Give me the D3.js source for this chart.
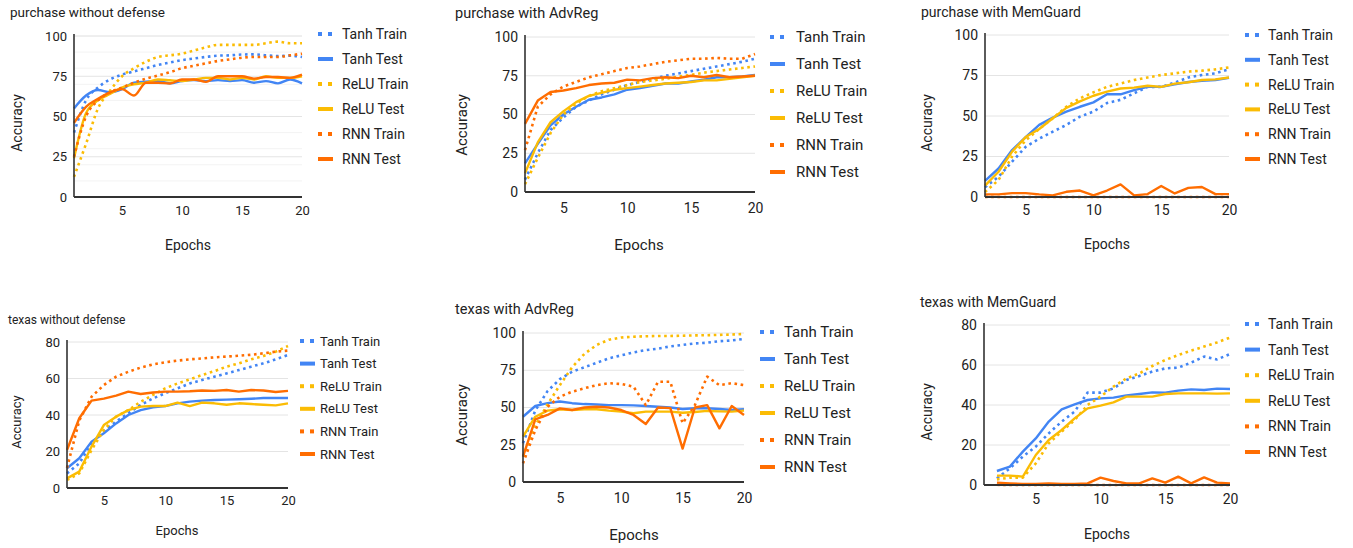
<!DOCTYPE html>
<head>
	<meta charset="utf-8">
	<style>
		body { margin: 0; background: #fff; }
		text { font-family: Roboto, "Liberation Sans", Arial, sans-serif; fill: #222; }
	</style>
	<script src="https://d3js.org/d3.v7.min.js"></script>
</head>
<body>
	<svg width="1353" height="548"></svg>
	<script type="text/javascript">
		// series order: Tanh Train, Tanh Test, ReLU Train, ReLU Test, RNN Train, RNN Test
		var series = ["Tanh Train", "Tanh Test", "ReLU Train", "ReLU Test", "RNN Train", "RNN Test"];
		var epochsFrom1 = [1,2,3,4,5,6,7,8,9,10,11,12,13,14,15,16,17,18,19,20];
		var epochsFrom2 = [2,3,4,5,6,7,8,9,10,11,12,13,14,15,16,17,18,19,20];
		var xTicks = [5, 10, 15, 20];
		var yTicks100 = [0, 25, 50, 75, 100];
		var yTicks80 = [0, 20, 40, 60, 80];

		var purchaseNoDefense = [
			[40, 60, 68, 73, 76, 78, 80, 82, 83.5, 85, 86, 87, 87.8, 88, 88.5, 88.6, 88, 87.5, 87.8, 87],
			[55, 63, 66.5, 65, 67, 71, 71.6, 72, 70.6, 72, 72.6, 72, 72.6, 72, 72.6, 71, 72, 70.6, 73, 70.6],
			[12.5, 33, 55, 66, 75, 80, 84, 87, 88, 89, 91, 93, 94.5, 94.5, 94.5, 94.5, 95.5, 96.5, 95.5, 95.5],
			[24, 52, 60, 64, 68, 70, 71, 73, 72.5, 72, 73, 74, 74, 73, 74, 73, 75, 74, 74, 75],
			[25, 50, 60, 65, 68, 71, 73.5, 75.5, 77.5, 80, 81.5, 83, 84.5, 85.5, 86.5, 87, 87, 87, 88, 89],
			[46, 56, 61, 65, 67, 63, 71, 71, 70.5, 73, 73, 71.5, 75, 75, 75, 73.5, 74.5, 74.5, 74, 76]
		];
		var purchaseAdvReg = [
			[8, 25, 40, 48, 55, 59, 63, 66, 69, 71, 73, 75, 76.5, 78, 79.5, 81, 82.5, 84, 86],
			[18.5, 31, 43, 50, 55, 59.5, 61, 63, 66, 67, 68.5, 70, 70, 71.3, 72.4, 74, 74, 74.6, 75.6],
			[5, 22, 38, 50, 57, 62, 65, 67, 69, 71, 72, 73, 74.5, 75.5, 77, 78, 79, 80, 81],
			[12, 32, 45, 52, 58, 62, 64, 66, 67, 68, 69, 70, 70.5, 71, 72, 72, 73, 74, 75],
			[27, 55, 63, 68, 71, 74, 76, 78, 80, 81, 82.5, 84, 85, 86, 86, 86.5, 86, 86, 89],
			[44, 59, 64.5, 65.5, 67, 69, 70, 70.5, 72.5, 72, 73.5, 74, 73.5, 75, 74, 75.5, 74, 74.5, 75]
		];
		var purchaseMemGuard = [
			[6, 12.5, 21.8, 31, 36, 40.3, 44.5, 49.6, 52.7, 58, 60, 64, 68, 68, 70.6, 73.8, 75.3, 76.3, 78.8],
			[10, 17.6, 29, 37, 44.5, 49, 52.7, 55.7, 58.4, 63.4, 63.4, 66, 68, 68, 69.5, 71, 71.8, 72.2, 73.6],
			[3, 10.5, 25, 35, 42, 48.6, 55.7, 60.9, 64.6, 68, 70, 72.2, 73.8, 75.3, 76.3, 77.4, 78, 78.8, 80],
			[7, 15.6, 28, 37, 42, 48.6, 55, 59, 62.5, 65, 67, 67.5, 68.7, 68, 70, 70.8, 72.2, 72.6, 73.8],
			[0.1, 0, 0, 0, 0, 0, 0, 0, 0, 0, 0, 0, 0, 0, 0, 0, 0, 0, 0],
			[1.6, 1.6, 2.4, 2.4, 1.6, 1, 3.2, 4, 1, 4, 7.8, 1, 1.8, 6.8, 2.2, 5.6, 6.2, 1.8, 1.8]
		];
		var texasNoDefense = [
			[8, 13.5, 24.5, 31, 36.4, 41, 45.5, 49.1, 51.9, 54.6, 57.3, 59.2, 61, 62.8, 64.6, 66.5, 68.3, 70.5, 72.9],
			[10.8, 16.3, 25.4, 30, 35.4, 40, 42.7, 44.2, 44.9, 46.4, 47.3, 47.9, 48.2, 48.4, 48.6, 48.9, 49.3, 49.3, 49.3],
			[4.4, 8, 20.8, 31.8, 39.1, 42.7, 47.3, 51, 54.6, 57.3, 59.5, 61.9, 64, 66.5, 68.3, 70.5, 72.3, 74.7, 77.8],
			[5.3, 9, 22.7, 34.5, 39.1, 42.7, 44.6, 44.9, 44.9, 46.8, 44.9, 46.8, 46.4, 45.6, 46.4, 46, 45.6, 45.3, 46.4],
			[11, 37, 50, 56.4, 61, 63.7, 66, 67.7, 68.9, 69.8, 70.5, 71, 71.6, 72, 72.5, 73, 73.8, 74.7, 75.3],
			[20.8, 38.2, 47.9, 49, 50.6, 52.8, 51.5, 52.3, 52.8, 52.8, 53, 53.4, 53.2, 53.7, 52.8, 53.7, 53.4, 52.6, 53.2]
		];
		var texasAdvReg = [
			[26, 48, 61, 69, 74, 77, 80, 83, 85, 87, 88.5, 89.5, 91, 92, 93, 93.5, 94.5, 95, 96],
			[43.8, 51, 52.9, 54, 52.9, 52.3, 52, 51.6, 51.6, 51.4, 51, 50.5, 50, 49, 49.5, 49.5, 49, 48.3, 48.8],
			[17, 38, 52, 65, 77, 86, 92, 95.5, 97, 97.5, 97.8, 98, 98, 98.2, 98.4, 98.5, 98.7, 99, 99.3],
			[30.4, 43.8, 47.9, 48.8, 48.3, 48.8, 48.8, 47.9, 47.2, 46.1, 47.2, 47.2, 47.2, 46.5, 47, 47.7, 47.4, 47.2, 47.9],
			[12.5, 34.9, 50.5, 57.2, 60.6, 62.9, 65, 66.3, 65.8, 64, 51.6, 67.3, 67.3, 39.4, 51.6, 70.7, 65, 66.3, 65],
			[17, 42, 45, 49.4, 48.3, 50, 50.5, 50, 48.3, 45, 38.9, 50, 49.6, 22.4, 50, 51.6, 36, 51, 45]
		];
		var texasMemGuard = [
			[3.3, 8.3, 14.2, 19.2, 25.8, 31.7, 36.7, 46.2, 46.2, 48.3, 52.5, 54.5, 56.7, 58.3, 58.7, 61.2, 64.2, 62.8, 65.5],
			[7, 9.2, 16.7, 23.3, 31.7, 37.8, 40.3, 42.5, 43.3, 43.7, 44.8, 45.5, 46.3, 46.2, 47.2, 47.8, 47.5, 48.2, 48],
			[2.8, 3.7, 3.7, 10.8, 20.8, 26.7, 32.5, 40, 44.2, 49.2, 53.3, 55.8, 59.5, 62.5, 65, 67.2, 69.2, 71.3, 73.7],
			[4.7, 4.7, 4.2, 15, 22.5, 27.5, 33.3, 38.3, 39.7, 41.3, 44.2, 44.2, 44.2, 45.5, 45.8, 45.8, 45.8, 45.7, 45.8],
			[0.1, 0, 0, 0, 0, 0, 0, 0, 0, 0, 0, 0, 0, 0, 0, 0, 0, 0, 0],
			[1.2, 0.8, 0.5, 0.5, 0.8, 0.5, 0.5, 0.8, 3.7, 2, 0.8, 0.8, 3.3, 1.2, 4.2, 0.8, 3.8, 1.2, 0.8]
		];

		var colors = d3.scaleOrdinal().domain(series).range(["#4285f4", "#4285f4", "#fbbc04", "#fbbc04", "#ff6d01", "#ff6d01"]);
		var isDotted = function(name){ return name.indexOf("Train") > -1; };

		// layout of each small chart (pixel positions)
		var panels = [
			{title: "purchase without defense", data: purchaseNoDefense, epochs: epochsFrom1, xMin: 1, yMax: 100, yTicks: yTicks100, minor: true, smooth: true,
			 left: 74, right: 302, top: 36, bottom: 197, tx: 10, ty: 17, tfs: 13.5, fs: 13, xPad: 9,
			 accX: 17, accY: 123, epX: 188, epY: 250, afs: 14, legX: 318, legTx: 342, legY: 34, legDy: 25, lfs: 14},
			{title: "purchase with AdvReg", data: purchaseAdvReg, epochs: epochsFrom2, xMin: 2, yMax: 100, yTicks: yTicks100,
			 left: 525, right: 755, top: 37, bottom: 192, tx: 455, ty: 18, tfs: 14.5, fs: 14, xPad: 11,
			 accX: 462, accY: 125, epX: 639, epY: 250, afs: 15, legX: 770, legTx: 796, legY: 37, legDy: 27, lfs: 15},
			{title: "purchase with MemGuard", data: purchaseMemGuard, epochs: epochsFrom2, xMin: 2, yMax: 100, yTicks: yTicks100,
			 left: 985, right: 1229, top: 35, bottom: 197, tx: 921, ty: 17, tfs: 14, fs: 14, xPad: 8,
			 accX: 927, accY: 123, epX: 1107, epY: 249, afs: 14, legX: 1245, legTx: 1268, legY: 35, legDy: 24.8, lfs: 14},
			{title: "texas without defense", data: texasNoDefense, epochs: epochsFrom2, xMin: 2, yMax: 80, yTicks: yTicks80,
			 left: 67, right: 288, top: 342, bottom: 488, tx: 8, ty: 324, tfs: 12, fs: 13, xPad: 8,
			 accX: 16, accY: 422, epX: 177, epY: 535, afs: 13, legX: 300, legTx: 320, legY: 341, legDy: 22.6, lfs: 13},
			{title: "texas with AdvReg", data: texasAdvReg, epochs: epochsFrom2, xMin: 2, yMax: 100, yTicks: yTicks100,
			 left: 523, right: 744, top: 333, bottom: 482, tx: 455, ty: 314, tfs: 14.5, fs: 14, xPad: 11,
			 accX: 462, accY: 415, epX: 634, epY: 540, afs: 15, legX: 760, legTx: 784, legY: 332, legDy: 27, lfs: 15},
			{title: "texas with MemGuard", data: texasMemGuard, epochs: epochsFrom2, xMin: 1, yMax: 80, yTicks: yTicks80,
			 left: 984, right: 1230, top: 325, bottom: 485, tx: 920, ty: 307, tfs: 14, fs: 14, xPad: 9,
			 accX: 927, accY: 412, epX: 1107, epY: 539, afs: 14, legX: 1245, legTx: 1268, legY: 324, legDy: 25.6, lfs: 14}
		];

		var svg = d3.select("svg");

		panels.forEach(function(p){
			var x = d3.scaleLinear().domain([p.xMin, 20]).range([p.left, p.right]);
			var y = d3.scaleLinear().domain([0, p.yMax]).range([p.bottom, p.top]);
			var g = svg.append("g");

			g.append("text").attr("x", p.tx).attr("y", p.ty).attr("font-size", p.tfs).text(p.title);

			// light grid lines
			if (p.minor) {
				g.append("g").selectAll("line").data(y.ticks(12)).join("line")
					.attr("x1", p.left).attr("x2", p.right).attr("y1", y).attr("y2", y)
					.attr("stroke", "#f3f3f3");
			}
			g.append("g").selectAll("line").data(p.yTicks).join("line")
				.attr("x1", p.left).attr("x2", p.right).attr("y1", y).attr("y2", y)
				.attr("stroke", "#e4e4e4");

			var yAxis = g.append("g").attr("transform", "translate(" + p.left + ",0)")
				.call(d3.axisLeft(y).tickValues(p.yTicks).tickSize(0).tickPadding(7));
			var xAxis = g.append("g").attr("transform", "translate(0," + p.bottom + ")")
				.call(d3.axisBottom(x).tickValues(xTicks).tickSize(0).tickPadding(p.xPad));
			[yAxis, xAxis].forEach(function(a){
				a.select(".domain").remove();
				a.selectAll("text").attr("font-size", p.fs).attr("font-family", "Roboto, sans-serif").attr("fill", "#222");
			});

			// series lines, last one drawn on top
			var line = d3.line().curve(p.smooth ? d3.curveMonotoneX : d3.curveLinear)
				.x(function(d, i){ return x(p.epochs[i]); })
				.y(function(d){ return y(d); });
			g.append("g").selectAll("path").data(p.data).join("path")
				.attr("fill", "none")
				.attr("stroke", function(d, i){ return colors(series[i]); })
				.attr("stroke-width", function(d, i){ return isDotted(series[i]) ? 2.6 : 2.4; })
				.attr("stroke-dasharray", function(d, i){ return isDotted(series[i]) ? "2.6,3.6" : null; })
				.attr("stroke-linejoin", "round")
				.attr("d", line);

			// axis lines
			g.append("line").attr("x1", p.left).attr("x2", p.left).attr("y1", p.top - 2).attr("y2", p.bottom)
				.attr("stroke", "#333").attr("stroke-width", 1.6);
			g.append("line").attr("x1", p.left).attr("x2", p.right).attr("y1", p.bottom).attr("y2", p.bottom)
				.attr("stroke", "#333").attr("stroke-width", 2);

			g.append("text").attr("transform", "translate(" + p.accX + "," + p.accY + ") rotate(-90)")
				.attr("text-anchor", "middle").attr("dy", "0.35em").attr("font-size", p.afs).text("Accuracy");
			g.append("text").attr("x", p.epX).attr("y", p.epY).attr("text-anchor", "middle")
				.attr("font-size", p.afs).text("Epochs");

			// legend
			var legend = g.append("g").selectAll("g").data(series).join("g")
				.attr("transform", function(d, i){ return "translate(0," + (p.legY + i * p.legDy) + ")"; });
			legend.each(function(d){
				var row = d3.select(this);
				if (isDotted(d)) {
					row.append("rect").attr("x", p.legX).attr("y", -2).attr("width", 4).attr("height", 4).attr("fill", colors(d));
					row.append("rect").attr("x", p.legX + 10).attr("y", -2).attr("width", 4).attr("height", 4).attr("fill", colors(d));
				} else {
					row.append("rect").attr("x", p.legX).attr("y", -2).attr("width", 15).attr("height", 4).attr("fill", colors(d));
				}
			});
			legend.append("text").attr("x", p.legTx).attr("dy", "0.35em").attr("font-size", p.lfs).text(function(d){ return d; });
		});
	</script>
</body>
